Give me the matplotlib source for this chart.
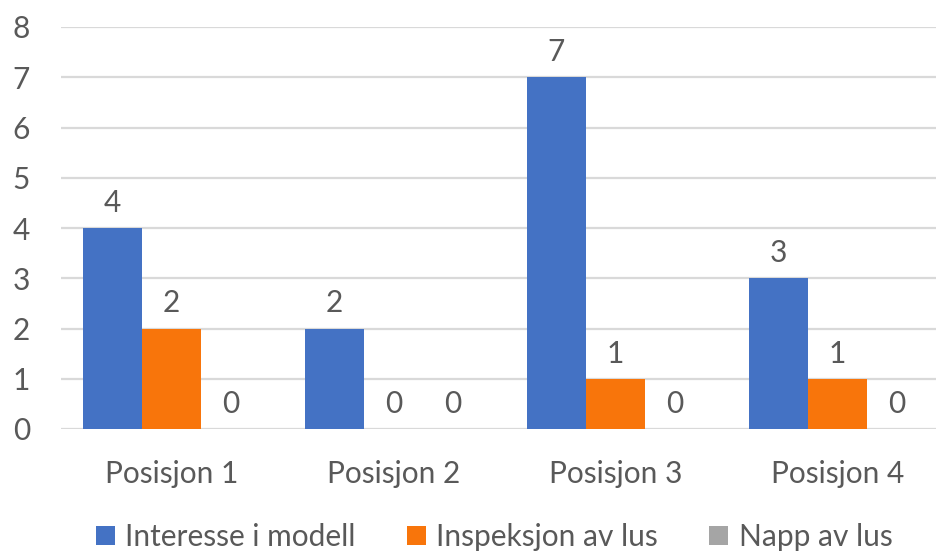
import matplotlib
matplotlib.use("Agg")
import matplotlib.pyplot as plt
from matplotlib.patches import Patch
import numpy as np

categories = ["Posisjon 1", "Posisjon 2", "Posisjon 3", "Posisjon 4"]
series_names = ["Interesse i modell", "Inspeksjon av lus", "Napp av lus"]
interesse = [4, 2, 7, 3]
inspeksjon = [2, 0, 1, 1]
napp = [0, 0, 0, 0]
y_ticks = [0, 1, 2, 3, 4, 5, 6, 7, 8]

colors = ["#4472C4", "#F8750B", "#A5A5A5"]
text_color = "#595959"
grid_color = "#D9D9D9"

plt.rcParams["font.family"] = ["Lato", "DejaVu Sans"]

W, H = 937, 552
fig = plt.figure(figsize=(W / 100, H / 100), dpi=100)
ax = fig.add_axes([60.5 / W, 123 / H, 888 / W, 402 / H])

x = np.arange(len(categories))
bw = 59 / 222
fs = 21.5
for j, (vals, name, c) in enumerate(zip([interesse, inspeksjon, napp], series_names, colors)):
    bars = ax.bar(x + (j - 1) * bw, vals, width=bw, color=c, label=name, zorder=3)
    ax.bar_label(bars, labels=[str(v) for v in vals], padding=8, fontsize=fs,
                 color=text_color)

ax.set_xlim(-0.5, len(categories) - 0.5)
ax.set_ylim(0, 8)
ax.set_yticks(y_ticks)
ax.set_yticklabels([str(t) for t in y_ticks], fontsize=fs, color=text_color)
ax.set_xticks(x)
ax.set_xticklabels(categories, fontsize=fs, color=text_color)
ax.tick_params(axis="y", length=0, pad=22)
ax.tick_params(axis="x", length=0, pad=22)
ax.grid(axis="y", color=grid_color, linewidth=1.6, zorder=0)
for s in ax.spines.values():
    s.set_visible(False)

handles = [Patch(facecolor=c, edgecolor="none") for c in colors]
fig.legend(handles, series_names, loc="center", bbox_to_anchor=(494 / W, 1 - 537 / H),
           ncol=3, frameon=False, fontsize=fs, labelcolor=text_color,
           handlelength=0.65, handleheight=0.65, handletextpad=0.35,
           columnspacing=1.7)

fig.savefig("out.png", dpi=100)
